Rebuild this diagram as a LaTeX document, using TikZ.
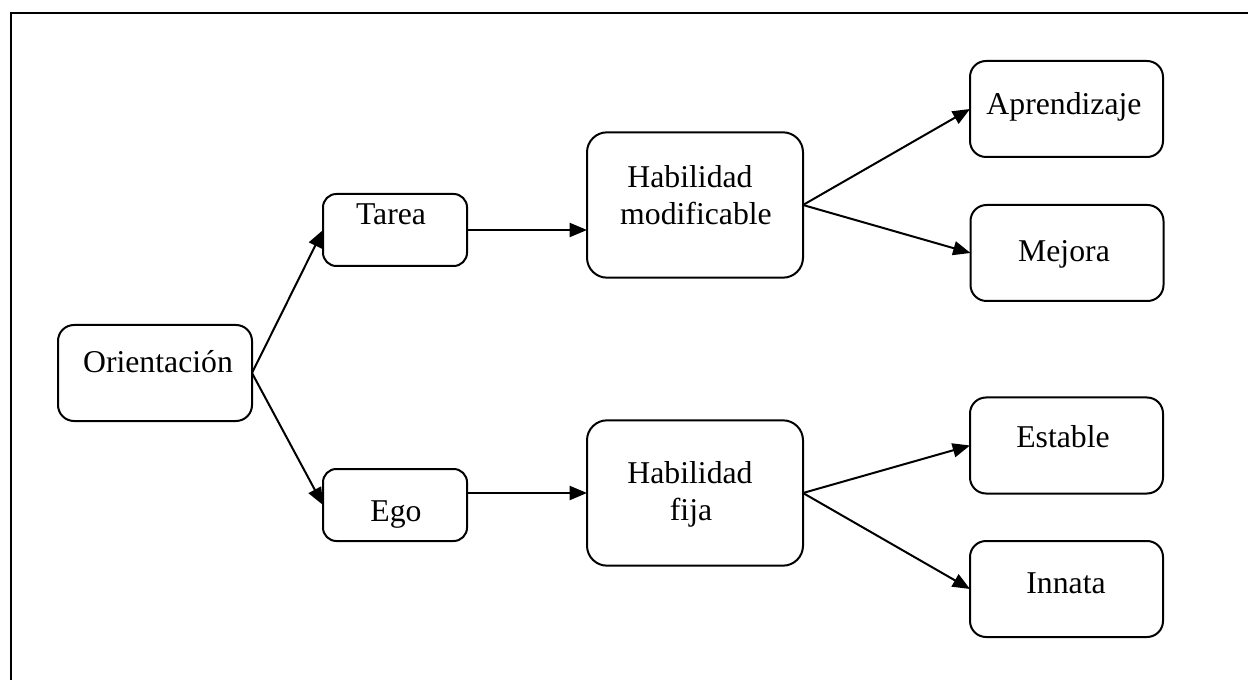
\documentclass[tikz,border=0pt]{standalone}
\usepackage{fontspec}
\setmainfont{Liberation Serif}
\usetikzlibrary{arrows.meta}
\begin{document}
\begin{tikzpicture}[x=0.75pt,y=-0.75pt,
  box/.style={draw, line width=1.5pt, rounded corners=10pt, inner sep=0pt, outer sep=0pt},
  smallbox/.style={box, minimum width=108pt, minimum height=54pt},
  leafbox/.style={box, rounded corners=12pt, minimum width=144.75pt, minimum height=72pt},
  bigbox/.style={box, rounded corners=15pt, minimum width=162pt, minimum height=109pt},
  lbl/.style={anchor=base, inner sep=0pt, font=\fontsize{23.8}{27.75}\selectfont},
  link/.style={line width=1.5pt, -{Triangle[length=13pt,width=10.5pt]}},
  frame/.style={line width=1.8pt}]
  \useasboundingbox (0,0) rectangle (1248,680);

  % outer frame (top and left sides)
  \coordinate (fa) at (11,680);
  \coordinate (fb) at (11,13);
  \coordinate (fc) at (1248,13);
  \draw[frame] (fa) -- (fb) -- (fc);

  % boxes
  \node[box, rounded corners=12pt, minimum width=145.5pt, minimum height=72pt] (or) at (155,373) {};
  \node[smallbox] (tarea) at (395,230) {};
  \node[smallbox] (ego) at (395,505) {};
  \node[bigbox] (hm) at (695,205) {};
  \node[bigbox] (hf) at (695,493) {};
  \node[leafbox] (apr) at (1066.5,109) {};
  \node[leafbox] (mej) at (1067,253) {};
  \node[leafbox] (est) at (1066.5,445.5) {};
  \node[leafbox] (inn) at (1066.5,589) {};

  % labels
  \node[lbl] (orT) at (158,373) {Orientación};
  \node[lbl] (tareaT) at (391,225) {Tarea};
  \node[lbl] (egoT) at (396,521) {Ego};
  \node[lbl] (hmA) at (690,188) {Habilidad};
  \node[lbl] (hmB) at (696,225) {modificable};
  \node[lbl] (hfA) at (690,483) {Habilidad};
  \node[lbl] (hfB) at (691,520) {fija};
  \node[lbl] (aprT) at (1064,115) {Aprendizaje};
  \node[lbl] (mejT) at (1064,262) {Mejora};
  \node[lbl] (estT) at (1063,447) {Estable};
  \node[lbl] (innT) at (1066,593) {Innata};

  % connectors
  \draw[link] (or.east) -- (tarea.west);
  \draw[link] (or.east) -- (ego.west);
  \draw[link] (tarea.east) -- (tarea.east -| hm.west);
  \draw[link] (hf.west -| ego.east) -- (hf.west);
  \draw[link] (hm.east) -- (apr.west);
  \draw[link] (hm.east) -- (mej.west);
  \draw[link] (hf.east) -- (est.west);
  \draw[link] (hf.east) -- (inn.west);
\end{tikzpicture}
\end{document}
